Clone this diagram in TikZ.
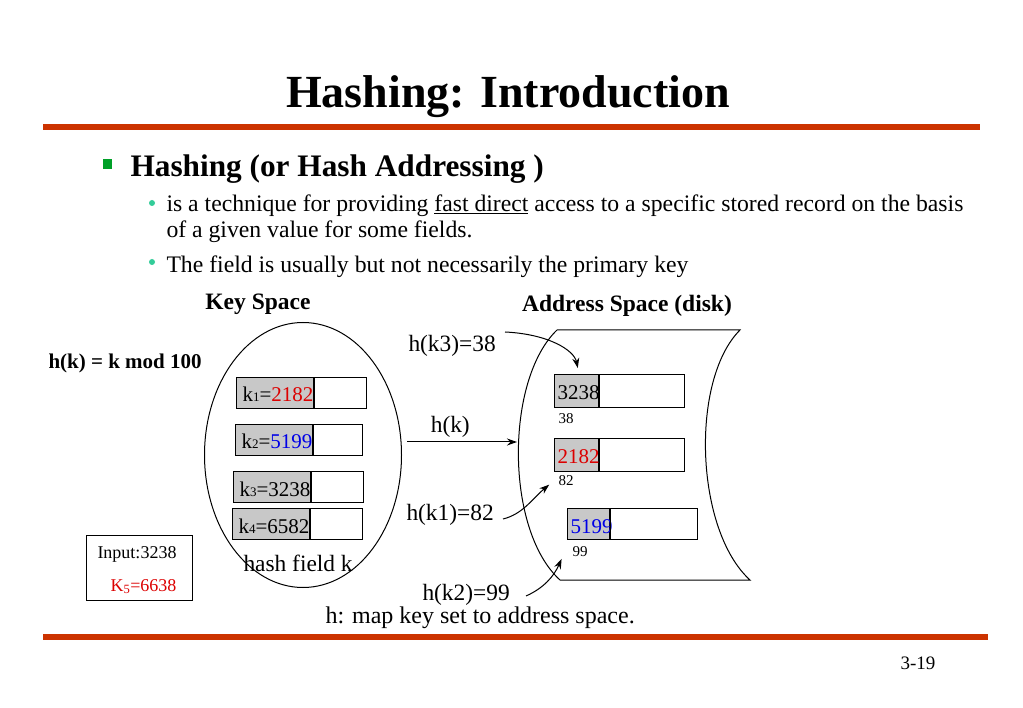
\documentclass[tikz,border=0pt]{standalone}
\usepackage{fontspec}
\setmainfont{Liberation Serif}
\usetikzlibrary{positioning,shapes.geometric,arrows.meta}
\definecolor{rulered}{RGB}{204,51,0}
\definecolor{bulletgreen}{RGB}{0,160,40}
\definecolor{bulletteal}{RGB}{51,204,153}
\definecolor{cellgray}{RGB}{200,200,200}
\definecolor{keyred}{RGB}{220,0,0}
\definecolor{keyblue}{RGB}{0,0,230}
\begin{document}
\begin{tikzpicture}[
    x=1pt,y=-1pt,
    line width=1pt,
    slidetitle/.style={anchor=base,inner sep=0pt,font=\fontsize{46}{54}\selectfont\bfseries},
    level1/.style={anchor=base west,inner sep=0pt,font=\fontsize{31.3}{36}\selectfont\bfseries},
    level2/.style={anchor=base west,inner sep=0pt,font=\fontsize{23.7}{28}\selectfont},
    heading/.style={anchor=base,inner sep=0pt,font=\fontsize{23.5}{28}\selectfont\bfseries},
    labeltext/.style={anchor=base west,inner sep=0pt,font=\fontsize{23.4}{28}\selectfont},
    slotlabel/.style={anchor=base west,inner sep=0pt,font=\fontsize{15}{18}\selectfont},
    inputtext/.style={anchor=base west,inner sep=0pt,font=\fontsize{18}{22}\selectfont},
    keycell/.style={draw,fill=cellgray,anchor=north west,minimum height=31,inner xsep=6pt,inner ysep=0pt,
      text width=65pt,align=left,text height=18pt,text depth=0pt,font=\fontsize{21}{24}\selectfont},
    slotcell/.style={keycell,minimum height=33,inner xsep=3pt,text width=38pt},
    restcell/.style={draw,minimum height=31,minimum width=52,inner sep=0pt},
    trans/.style={->,>={Stealth[length=10pt,width=7pt]},shorten >=1pt}
  ]
  \useasboundingbox (0,0) rectangle (1023,708);
  % Draw the title and the rules.
  \node[slidetitle] (title) at (508,108) {Hashing: Introduction};
  \fill[rulered] (43,124) rectangle (980,130);
  \fill[rulered] (43,634) rectangle (988,640);
  \node[anchor=base west,inner sep=0pt,font=\fontsize{19}{22}\selectfont] (page) at (900,669) {3-19};
  % Draw the bullets.
  \fill[bulletgreen] (103,159) rectangle (112,169);
  \node[level1] (topic) at (130,177) {Hashing (or Hash Addressing )};
  \fill[bulletteal] (152,203) circle (3pt);
  \node[level2] (line1) at (166,212) {is a technique for providing \underline{fast direct} access to a specific stored record on the basis};
  \node[level2] (line2) at (166,238) {of a given value for some fields.};
  \fill[bulletteal] (152,262) circle (3pt);
  \node[level2] (line3) at (166,273) {The field is usually but not necessarily the primary key};
  % Draw the key space.
  \node[heading] (keyhead) at (258,310) {Key Space};
  \node[anchor=base west,inner sep=0pt,font=\fontsize{21}{24}\selectfont\bfseries] (hashfn) at (48,369) {h(k) = k mod 100};
  \node[draw,ellipse,minimum width=197,minimum height=265,inner sep=0pt] (keyspace) at (303,455) {};
  \node[keycell,minimum width=77] (k1) at (236,377) {k{\fontsize{13}{13}\selectfont 1}=\textcolor{keyred}{2182}};
  \node[restcell,right=0pt of k1] (k1r) {};
  \node[keycell] (k2) at (235,424) {k{\fontsize{13}{13}\selectfont 2}=\textcolor{keyblue}{5199}};
  \node[restcell,right=0pt of k2,minimum width=49] (k2r) {};
  \node[keycell] (k3) at (233,471) {k{\fontsize{13}{13}\selectfont 3}=3238};
  \node[restcell,right=0pt of k3] (k3r) {};
  \node[keycell] (k4) at (232,508) {k{\fontsize{13}{13}\selectfont 4}=6582};
  \node[restcell,right=0pt of k4] (k4r) {};
  \node[labeltext] (field) at (243,571) {hash field k};
  % Draw the input.
  \node[draw,minimum width=106,minimum height=65,inner sep=0pt] (inputbox) at (139,567.5) {};
  \node[inputtext] (input) at (97,558) {Input:3238};
  \node[inputtext,text=keyred] (k5) at (110,591) {K\textsubscript{5}=6638};
  % Draw the address space.
  \node[heading] (addrhead) at (627,312) {Address Space (disk)};
  \draw (557,330) -- (740,330) .. controls (690,380) and (695,530) .. (750,580)
    -- (560,580) .. controls (505,530) and (505,380) .. (557,330);
  \node[slotcell] (s38) at (554,374) {3238};
  \node[restcell,right=0pt of s38,minimum width=85,minimum height=33] (s38r) {};
  \node[slotlabel] (n38) at (558,424) {38};
  \node[slotcell] (s82) at (554,438) {\textcolor{keyred}{2182}};
  \node[restcell,right=0pt of s82,minimum width=85,minimum height=33] (s82r) {};
  \node[slotlabel] (n82) at (558,485) {82};
  \node[slotcell,minimum height=31,text width=36pt] (s99) at (567,508) {\textcolor{keyblue}{5199}};
  \node[restcell,right=0pt of s99,minimum width=87] (s99r) {};
  \node[slotlabel] (n99) at (572,556) {99};
  % Draw the transitions.
  \coordinate (hkfrom) at (407,442);
  \coordinate (diskin) at (518,442);
  \draw[trans] (hkfrom) -- node[pos=0.39,above=4pt,inner sep=0pt,font=\fontsize{23.4}{28}\selectfont] (hk) {h(k)} (diskin);
  \node[labeltext] (hk3) at (408,352) {h(k3)=38};
  \coordinate (hk3from) at (505,332);
  \coordinate (hk3to) at (578,369);
  \draw[trans] (hk3from) .. controls +(43,2) and +(-4,-19) .. (hk3to);
  \node[labeltext] (hk1) at (406,520) {h(k1)=82};
  \coordinate (hk1from) at (503,519);
  \coordinate (hk1to) at (550,484);
  \draw[trans] (hk1from) .. controls +(20,-5) and +(-18,15) .. (hk1to);
  \node[labeltext] (hk2) at (422,600) {h(k2)=99};
  \coordinate (hk2from) at (526,596);
  \coordinate (hk2to) at (562,558);
  \draw[trans] (hk2from) .. controls +(18,-8) and +(-8,18) .. (hk2to);
  \node[anchor=base west,inner sep=0pt,font=\fontsize{24}{28}\selectfont] (caption) at (325,623) {h: map key set to address space.};
\end{tikzpicture}
\end{document}
